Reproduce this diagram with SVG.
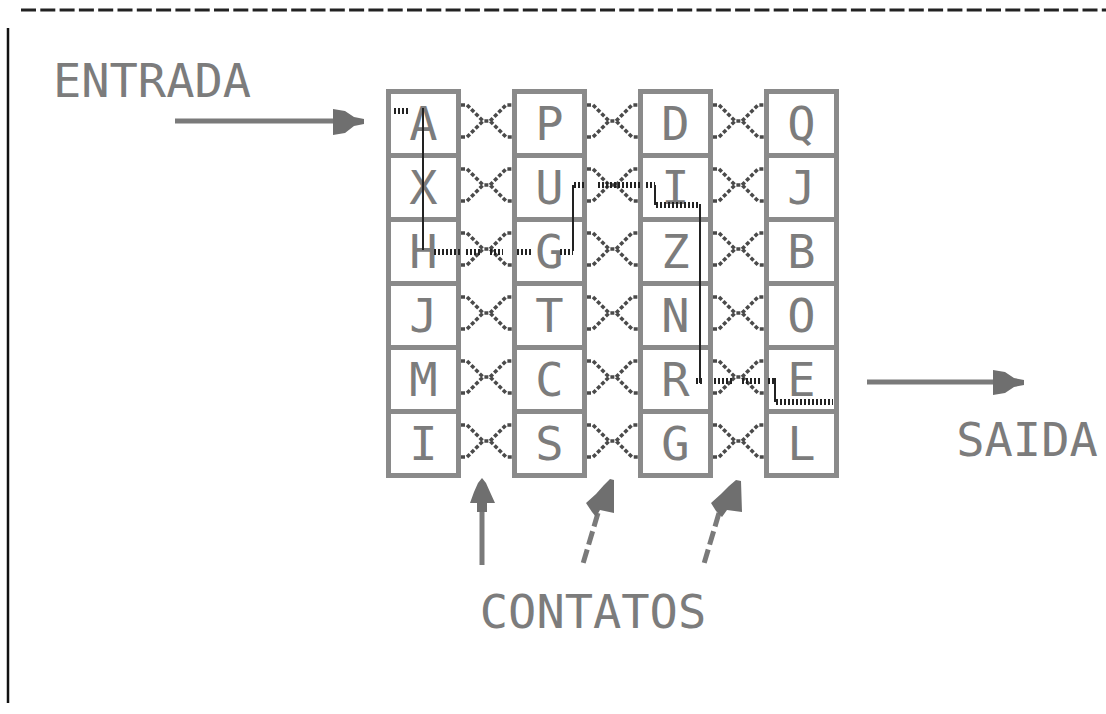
<svg xmlns="http://www.w3.org/2000/svg" width="1106" height="714" viewBox="0 0 1106 714">
  <style>
    .cell { fill: #ffffff; stroke: #8a8a8a; stroke-width: 5; }
    .glyph { font-family: "DejaVu Sans Mono", "Liberation Mono", monospace; font-size: 47px; fill: #7c7c7c; text-anchor: middle; }
    .label { font-family: "DejaVu Sans Mono", "Liberation Mono", monospace; font-size: 47px; fill: #7c7c7c; text-anchor: middle; }
    .contact { fill: none; stroke: #4a4a4a; stroke-width: 3.5; stroke-dasharray: 4 2; }
    .route { fill: none; stroke: #222222; stroke-width: 6; stroke-dasharray: 2 2; }
    .wire { fill: none; stroke: #222222; stroke-width: 2; }
    .shaft { fill: none; stroke: #7a7a7a; stroke-width: 5; }
    .head { fill: #6f6f6f; }
  </style>

  <!-- page frame: dashed top rule and left margin line -->
  <line x1="21" y1="10" x2="1106" y2="10" stroke="#222" stroke-width="3" stroke-dasharray="15 4.3"/>
  <line x1="8" y1="28" x2="8" y2="703" stroke="#111" stroke-width="2.5"/>

  <!-- labels -->
  <text id="entrada" class="label" x="152" y="97">ENTRADA</text>
  <text id="saida" class="label" x="1027" y="456">SAIDA</text>
  <text id="contatos" class="label" x="593" y="628" font-size="48">CONTATOS</text>

  <!-- column 1 -->
  <g id="c1r1"><rect class="cell" x="388.5" y="91.5" width="70" height="64"/><text class="glyph" x="423.5" y="140">A</text></g>
  <g id="c1r2"><rect class="cell" x="388.5" y="155.5" width="70" height="64"/><text class="glyph" x="423.5" y="204">X</text></g>
  <g id="c1r3"><rect class="cell" x="388.5" y="219.5" width="70" height="64"/><text class="glyph" x="423.5" y="268">H</text></g>
  <g id="c1r4"><rect class="cell" x="388.5" y="283.5" width="70" height="64"/><text class="glyph" x="423.5" y="332">J</text></g>
  <g id="c1r5"><rect class="cell" x="388.5" y="347.5" width="70" height="64"/><text class="glyph" x="423.5" y="396">M</text></g>
  <g id="c1r6"><rect class="cell" x="388.5" y="411.5" width="70" height="64"/><text class="glyph" x="423.5" y="460">I</text></g>

  <!-- column 2 -->
  <g id="c2r1"><rect class="cell" x="514.5" y="91.5" width="70" height="64"/><text class="glyph" x="549.5" y="140">P</text></g>
  <g id="c2r2"><rect class="cell" x="514.5" y="155.5" width="70" height="64"/><text class="glyph" x="549.5" y="204">U</text></g>
  <g id="c2r3"><rect class="cell" x="514.5" y="219.5" width="70" height="64"/><text class="glyph" x="549.5" y="268">G</text></g>
  <g id="c2r4"><rect class="cell" x="514.5" y="283.5" width="70" height="64"/><text class="glyph" x="549.5" y="332">T</text></g>
  <g id="c2r5"><rect class="cell" x="514.5" y="347.5" width="70" height="64"/><text class="glyph" x="549.5" y="396">C</text></g>
  <g id="c2r6"><rect class="cell" x="514.5" y="411.5" width="70" height="64"/><text class="glyph" x="549.5" y="460">S</text></g>

  <!-- column 3 -->
  <g id="c3r1"><rect class="cell" x="640.5" y="91.5" width="70" height="64"/><text class="glyph" x="675.5" y="140">D</text></g>
  <g id="c3r2"><rect class="cell" x="640.5" y="155.5" width="70" height="64"/><text class="glyph" x="675.5" y="204">I</text></g>
  <g id="c3r3"><rect class="cell" x="640.5" y="219.5" width="70" height="64"/><text class="glyph" x="675.5" y="268">Z</text></g>
  <g id="c3r4"><rect class="cell" x="640.5" y="283.5" width="70" height="64"/><text class="glyph" x="675.5" y="332">N</text></g>
  <g id="c3r5"><rect class="cell" x="640.5" y="347.5" width="70" height="64"/><text class="glyph" x="675.5" y="396">R</text></g>
  <g id="c3r6"><rect class="cell" x="640.5" y="411.5" width="70" height="64"/><text class="glyph" x="675.5" y="460">G</text></g>

  <!-- column 4 -->
  <g id="c4r1"><rect class="cell" x="766.5" y="91.5" width="70" height="64"/><text class="glyph" x="801.5" y="140">Q</text></g>
  <g id="c4r2"><rect class="cell" x="766.5" y="155.5" width="70" height="64"/><text class="glyph" x="801.5" y="204">J</text></g>
  <g id="c4r3"><rect class="cell" x="766.5" y="219.5" width="70" height="64"/><text class="glyph" x="801.5" y="268">B</text></g>
  <g id="c4r4"><rect class="cell" x="766.5" y="283.5" width="70" height="64"/><text class="glyph" x="801.5" y="332">O</text></g>
  <g id="c4r5"><rect class="cell" x="766.5" y="347.5" width="70" height="64"/><text class="glyph" x="801.5" y="396">E</text></g>
  <g id="c4r6"><rect class="cell" x="766.5" y="411.5" width="70" height="64"/><text class="glyph" x="801.5" y="460">L</text></g>

  <defs>
    <!-- one crossed contact pair spanning a 51px gap, origin at the row's top-left of the gap -->
    <path id="xpair" class="contact" d="M0,16 h6 L22,32 h7 L45,48 h6 M0,48 h6 L22,32 M29,32 L45,16 h6"/>
  </defs>

  <g id="connectors">
    <!-- contacts between columns 1 and 2 -->
    <use href="#xpair" x="461" y="89"/>
    <use href="#xpair" x="461" y="153"/>
    <use href="#xpair" x="461" y="217"/>
    <use href="#xpair" x="461" y="281"/>
    <use href="#xpair" x="461" y="345"/>
    <use href="#xpair" x="461" y="409"/>
    <!-- contacts between columns 2 and 3 -->
    <use href="#xpair" x="587" y="89"/>
    <use href="#xpair" x="587" y="153"/>
    <use href="#xpair" x="587" y="217"/>
    <use href="#xpair" x="587" y="281"/>
    <use href="#xpair" x="587" y="345"/>
    <use href="#xpair" x="587" y="409"/>
    <!-- contacts between columns 3 and 4 -->
    <use href="#xpair" x="713" y="89"/>
    <use href="#xpair" x="713" y="153"/>
    <use href="#xpair" x="713" y="217"/>
    <use href="#xpair" x="713" y="281"/>
    <use href="#xpair" x="713" y="345"/>
    <use href="#xpair" x="713" y="409"/>

    <!-- signal route through the cells -->
    <path class="route" d="M394,111 H410"/>
    <path class="wire" d="M423,108 V250"/>
    <path class="route" d="M434,252 H462 M466,252 H480 M490,252 H503 M517,252 H533 M560,252 H573"/>
    <path class="wire" d="M573,251 V185"/>
    <path class="route" d="M574,185 H584 M598,185 H640 M646,185 H655"/>
    <path class="wire" d="M655,185 V205"/>
    <path class="route" d="M656,205 H700"/>
    <path class="wire" d="M700,204 V383"/>
    <path class="route" d="M696,381 H704 M714,381 H732 M742,381 H760 M768,381 H774"/>
    <path class="wire" d="M775,378 V402"/>
    <path class="route" d="M776,402 H833"/>

    <!-- input arrow -->
    <line class="shaft" x1="175" y1="121" x2="336" y2="121"/>
    <polygon class="head" points="333,109 345,111 354,117 364,119 364,124 354,126 345,133 333,135"/>

    <!-- output arrow -->
    <line class="shaft" x1="867" y1="382" x2="996" y2="382"/>
    <polygon class="head" points="993,370 1005,372 1014,378 1024,380 1024,385 1014,387 1005,393 993,395"/>

    <!-- contact pointers -->
    <line class="shaft" x1="482" y1="508" x2="482" y2="565" stroke-width="4"/>
    <polygon class="head" points="482,478 486,483 490,492 495,503 487,503 487,512 477,512 477,503 470,503 474,492 478,483"/>

    <line class="shaft" x1="598" y1="513" x2="582" y2="567" stroke-width="4" stroke-dasharray="14 5"/>
    <polygon class="head" points="610,479 614,480 614,513 600,510 596,517 592,512 586,503 596,494 604,485"/>

    <line class="shaft" x1="719" y1="513" x2="703" y2="567" stroke-width="4" stroke-dasharray="14 5"/>
    <polygon class="head" points="736,480 741,481 742,512 727,510 722,517 716,511 711,503 721,494 729,486"/>
  </g>
</svg>
